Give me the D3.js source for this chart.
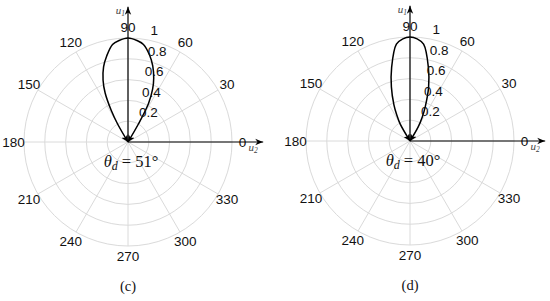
<!DOCTYPE html>
<html>
<head>
<meta charset="utf-8">
<script src="https://cdn.jsdelivr.net/npm/d3@7"></script>
<style>
  body { margin: 0; background: #fff; }
  svg { display: block; }
</style>
</head>
<body>
<svg id="chart" width="550" height="301"></svg>
<script>
// spokes every 30 degrees, labels at 1.1 * rmax
const spokeAngles = [0, 30, 60, 90, 120, 150, 180, 210, 240, 270, 300, 330];
const radialTicks = [0.2, 0.4, 0.6, 0.8, 1];
const radialLabels = ["0.2", "0.4", "0.6", "0.8", "1"];

// panel (c): theta_d = 51
const lobeAnglesC = [59, 60, 62, 65, 68, 72, 76, 81, 85, 90, 95, 99, 104, 108, 112, 115, 118, 120, 121];
const lobeRadiiC  = [0, 0.2, 0.42, 0.56, 0.66, 0.77, 0.86, 0.95, 0.98, 1.0, 0.98, 0.95, 0.85, 0.76, 0.64, 0.52, 0.34, 0.2, 0];

// panel (d): theta_d = 40
const lobeAnglesD = [58, 60, 63, 66, 71, 76, 82, 86, 90, 94, 98, 104, 109, 114, 117, 120, 122];
const lobeRadiiD  = [0, 0.16, 0.26, 0.36, 0.55, 0.73, 0.94, 0.985, 1.0, 0.985, 0.94, 0.73, 0.55, 0.38, 0.28, 0.19, 0];

const panels = [
  { cx: 128, cy: 142, angles: lobeAnglesC, radii: lobeRadiiC, thetaD: "51", caption: "(c)" },
  { cx: 410, cy: 141, angles: lobeAnglesD, radii: lobeRadiiD, thetaD: "40", caption: "(d)" }
];

const R = 104;
const rScale = d3.scaleLinear().domain([0, 1]).range([0, R]);
const rad = d => d * Math.PI / 180;

const svg = d3.select("#chart");
const defs = svg.append("defs");

defs.append("marker")
  .attr("id", "axisArrow")
  .attr("viewBox", "0 0 10 10")
  .attr("refX", 10).attr("refY", 5)
  .attr("markerWidth", 8).attr("markerHeight", 8)
  .attr("markerUnits", "userSpaceOnUse")
  .attr("orient", "auto")
  .append("path")
  .attr("d", "M0,1 L10,5 L0,9 L3,5 Z")
  .attr("fill", "#000");

defs.append("marker")
  .attr("id", "lobeArrow")
  .attr("viewBox", "0 0 10 10")
  .attr("refX", 10).attr("refY", 5)
  .attr("markerWidth", 7).attr("markerHeight", 7)
  .attr("markerUnits", "userSpaceOnUse")
  .attr("orient", "auto-start-reverse")
  .append("path")
  .attr("d", "M0,0 L10,5 L0,10 L3,5 Z")
  .attr("fill", "#000");

panels.forEach(p => {
  const g = svg.append("g").attr("transform", `translate(${p.cx},${p.cy})`);

  // grid circles
  g.selectAll("circle.grid")
    .data(radialTicks)
    .join("circle")
    .attr("class", "grid")
    .attr("r", d => rScale(d))
    .attr("fill", "none")
    .attr("stroke", "#dadada")
    .attr("stroke-width", 1);

  // spokes
  g.selectAll("line.spoke")
    .data(spokeAngles.slice(0, 6))
    .join("line")
    .attr("class", "spoke")
    .attr("x1", d => -rScale(1) * Math.cos(rad(d)))
    .attr("y1", d => rScale(1) * Math.sin(rad(d)))
    .attr("x2", d => rScale(1) * Math.cos(rad(d)))
    .attr("y2", d => -rScale(1) * Math.sin(rad(d)))
    .attr("stroke", "#dadada")
    .attr("stroke-width", 1);

  // angle labels
  g.selectAll("text.ang")
    .data(spokeAngles)
    .join("text")
    .attr("class", "ang")
    .attr("x", d => rScale(1.1) * Math.cos(rad(d)))
    .attr("y", d => -rScale(1.1) * Math.sin(rad(d)))
    .attr("text-anchor", "middle")
    .attr("dominant-baseline", "central")
    .attr("font-family", "'Liberation Sans', Arial, sans-serif")
    .attr("font-size", 13.5)
    .attr("fill", "#111")
    .text(d => d);

  // lobe
  const pts = p.angles.map((a, i) => [rad(90 - a), rScale(p.radii[i])]);
  const line = d3.lineRadial()
    .angle(d => d[0])
    .radius(d => d[1])
    .curve(d3.curveCatmullRom.alpha(0.5));
  g.append("path")
    .attr("d", line(pts))
    .attr("fill", "none")
    .attr("stroke", "#000")
    .attr("stroke-width", 1.5)
    .attr("marker-start", "url(#lobeArrow)")
    .attr("marker-end", "url(#lobeArrow)");

  // axes
  g.append("line")
    .attr("x1", 0).attr("y1", 0)
    .attr("x2", rScale(1.3)).attr("y2", 0)
    .attr("stroke", "#000").attr("stroke-width", 1.2)
    .attr("marker-end", "url(#axisArrow)");
  g.append("line")
    .attr("x1", 0).attr("y1", 0)
    .attr("x2", 0).attr("y2", -rScale(1.3))
    .attr("stroke", "#000").attr("stroke-width", 1.2)
    .attr("marker-end", "url(#axisArrow)");

  // radial labels, MATLAB style at 82 degrees
  g.selectAll("text.rlab")
    .data(radialTicks)
    .join("text")
    .attr("class", "rlab")
    .attr("x", d => rScale(d + 0.01) * Math.cos(rad(82)) + 8)
    .attr("y", d => -rScale(d + 0.01) * Math.sin(rad(82)) - 3)
    .attr("font-family", "'Liberation Sans', Arial, sans-serif")
    .attr("font-size", 13.5)
    .attr("fill", "#111")
    .text((d, i) => radialLabels[i]);

  // axis names
  const u1 = g.append("text")
    .attr("x", -3).attr("y", -rScale(1.23))
    .attr("text-anchor", "end")
    .attr("font-family", "'Liberation Serif', serif")
    .attr("font-style", "italic")
    .attr("font-size", 11)
    .attr("fill", "#444");
  u1.append("tspan").text("u");
  u1.append("tspan").attr("font-size", 7.5).attr("dy", 2).text("1");

  const u2 = g.append("text")
    .attr("x", rScale(1.1) + 6).attr("y", 9)
    .attr("font-family", "'Liberation Serif', serif")
    .attr("font-style", "italic")
    .attr("font-size", 11)
    .attr("fill", "#444");
  u2.append("tspan").text("u");
  u2.append("tspan").attr("font-size", 7.5).attr("dy", 2).text("2");

  // theta_d label
  const th = g.append("text")
    .attr("x", 3).attr("y", 25)
    .attr("text-anchor", "middle")
    .attr("font-family", "'Liberation Serif', 'DejaVu Serif', serif")
    .attr("font-size", 16.5)
    .attr("fill", "#111");
  th.append("tspan").attr("font-style", "italic").text("θ");
  th.append("tspan").attr("font-style", "italic").attr("font-size", 12).attr("dy", 3).text("d");
  th.append("tspan").attr("dy", -3).text(" = " + p.thetaD + "°");

  // caption
  g.append("text")
    .attr("x", 0).attr("y", 149)
    .attr("text-anchor", "middle")
    .attr("font-family", "'Liberation Serif', serif")
    .attr("font-size", 14.5)
    .attr("fill", "#111")
    .text(p.caption);
});
</script>
</body>
</html>
